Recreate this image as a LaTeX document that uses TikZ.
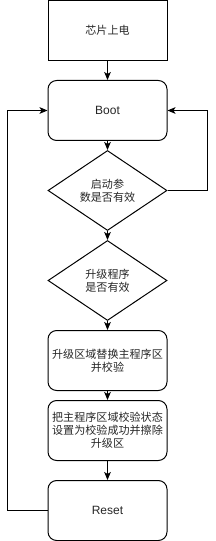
\documentclass[tikz,border=0pt]{standalone}
\usepackage{fontspec}
\setmainfont{Liberation Sans}
\newfontfamily\cjk{Noto Sans CJK SC}
\usetikzlibrary{shapes.geometric,arrows.meta}
\begin{document}
\begin{tikzpicture}[x=0.75pt,y=-0.75pt,
  base/.style={draw=black,line width=0.75pt,minimum width=119*0.75pt,minimum height=60*0.75pt,inner sep=0pt,
    align=center,font=\fontsize{8.3}{9.8}\selectfont\cjk,text=black!85},
  sqbox/.style={base},
  rbox/.style={base,rounded corners=6.5pt},
  dia/.style={draw=black,line width=0.75pt,diamond,minimum width=119*0.75pt,minimum height=80*0.75pt,inner sep=0pt},
  txt/.style={align=center,font=\fontsize{8.3}{9.8}\selectfont\cjk,text=black!85,inner sep=0pt},
  arr/.style={line width=0.75pt,-{Stealth[length=6pt,width=5pt,inset=1.5pt]}}]
\useasboundingbox (0,0) rectangle (216,541);
\node[sqbox] (n1) at (107.5,30.8) {芯片上电};
\node[rbox,font=\fontsize{9}{9.8}\selectfont] (boot) at (107.5,110.5) {Boot};
\node[dia] (d1) at (107.5,190.5) {};
\node[txt] (d1t) at (d1) {启动参\\数是否有效};
\node[dia] (d2) at (107.5,280.5) {};
\node[txt] (d2t) at (d2) {升级程序\\是否有效};
\node[rbox] (b3) at (107.5,360.5) {升级区域替换主程序区\\并校验};
\node[rbox] (b4) at (107.5,430.5) {把主程序区域校验状态\\设置为校验成功并擦除\\升级区};
\node[rbox,font=\fontsize{9}{9.8}\selectfont] (reset) at (107.5,510.5) {Reset};
\coordinate (rr) at (207.7,190.5);
\coordinate (ll) at (7.7,510.5);
\draw[arr] (n1) -- (boot);
\draw[arr] (boot) -- (d1.north);
\draw[arr] (d1.south) -- (d2.north);
\draw[arr] (d2.south) -- (b3);
\draw[arr] (b3) -- (b4);
\draw[arr] (b4) -- (reset);
\draw[arr] (d1.east) -- (rr) |- (boot.east);
\draw[arr] (reset.west) -- (ll) |- (boot.west);
\end{tikzpicture}
\end{document}
